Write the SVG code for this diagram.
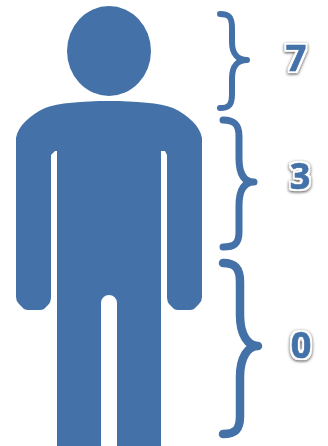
<svg xmlns="http://www.w3.org/2000/svg" width="328" height="446" viewBox="0 0 328 446">
<style>
.f{fill:#4472a8}
.b{fill:none;stroke:#4472a8;stroke-linecap:round;stroke-linejoin:round}
.n{font-family:"Open Sans","Liberation Sans",sans-serif;font-weight:700;font-size:36px;text-anchor:middle;fill:#4472a8;stroke:#4472a8;stroke-width:.7px;filter:url(#s)}
</style>
<defs>
<filter id="s" x="-60%" y="-40%" width="220%" height="180%" color-interpolation-filters="sRGB">
<feMorphology in="SourceAlpha" operator="dilate" radius="2" result="wide"/>
<feGaussianBlur in="wide" stdDeviation="0.5" result="wideSoft"/>
<feFlood flood-color="#fff"/>
<feComposite in2="wideSoft" operator="in" result="white"/>
<feGaussianBlur in="wide" stdDeviation="1.5" result="sb"/>
<feOffset in="sb" dy="0.7" result="so"/>
<feFlood flood-color="#000" flood-opacity="0.7"/>
<feComposite in2="so" operator="in" result="shadow"/>
<feMerge><feMergeNode in="shadow"/><feMergeNode in="white"/><feMergeNode in="SourceGraphic"/></feMerge>
</filter>
</defs>
<rect width="328" height="446" fill="#fff"/>
<g id="person">
<ellipse class="f" cx="109" cy="51" rx="42" ry="45"/>
<path class="f" d="M16 138C18 126 30 115 45 108C58 103 82 101 109 101C136 101 160 103 173 108C188 115 200 126 202 138V297Q202 301 199 304L194 309Q192 310 190 310H178Q176 310 174 309L170 305Q167 302 167 297V155L165 151H161V446H117V303A8 8 0 0 0 101 303V446H57V151H55L51 155V297Q51 302 48 305L44 309Q42 310 40 310H28Q26 310 24 309L19 304Q16 301 16 297Z"/>
</g>
<g id="connectors">
<path class="b" stroke-width="6" d="M220 14C229 14 232 17 232 28V42C232 54 238 60 247 60C238 60 232 66 232 78V94C232 105 229 108 220 108"/>
<path class="b" stroke-width="7" d="M223 120C234 120 239 124 239 136V158C239 174 244 182 254 182C244 182 239 190 239 206V232C239 244 234 247 223 247"/>
<path class="b" stroke-width="8.5" d="M223 263C235 263 240 268 240 282V315C240 335 248 346 258 346C248 346 240 357 240 377V416C240 430 235 434 223 434"/>
</g>
<g id="label-7"><text class="n" x="296" y="71">7</text></g>
<g id="label-3"><text class="n" x="300" y="189">3</text></g>
<g id="label-0"><text class="n" x="301" y="358">0</text></g>
</svg>
